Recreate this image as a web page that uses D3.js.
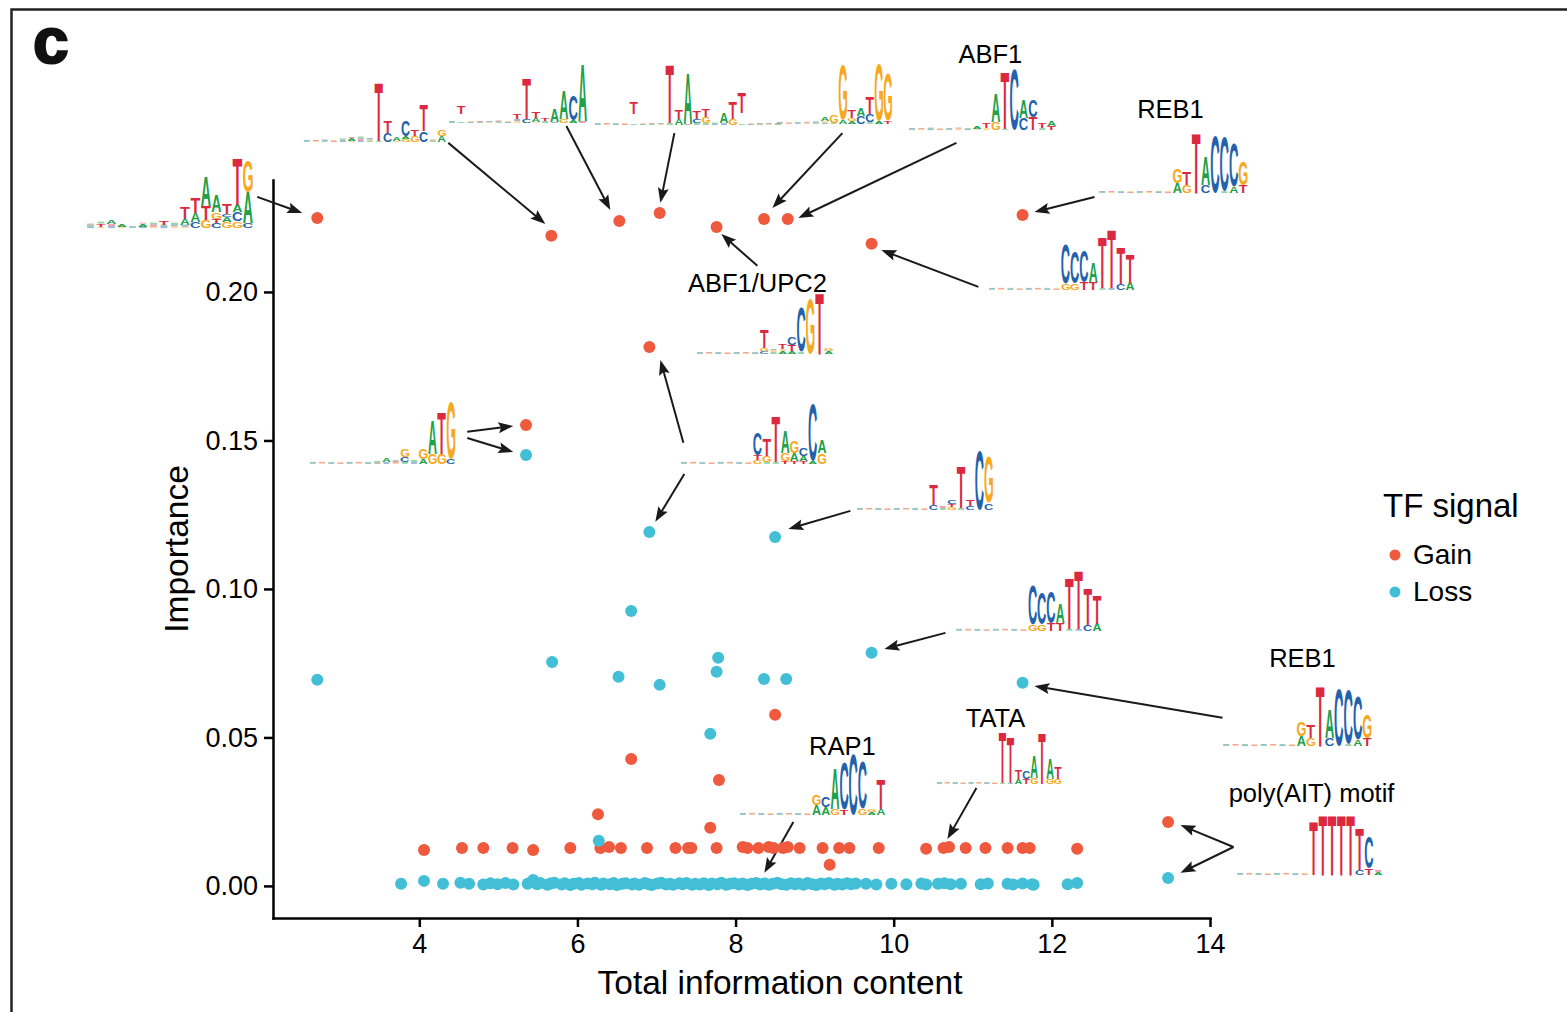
<!DOCTYPE html>
<html><head><meta charset="utf-8">
<script src="https://cdn.jsdelivr.net/npm/d3@7"></script>
<style>body{margin:0;background:#fff;} svg{display:block;} text{font-family:"Liberation Sans",Arial,sans-serif;}</style>
</head><body>
<svg id="chart" width="1567" height="1012"></svg>
<script>
// ---------------- DATA ----------------
const seriesNames = ["Gain", "Loss"];
const xTicks = [4, 6, 8, 10, 12, 14];
const yTicks = [0, 0.05, 0.10, 0.15, 0.20];

// [total information content, importance]
const gainPoints = [
  [2.71,.2249],[5.67,.2189],[6.53,.2239],[7.04,.2266],[7.76,.2219],[8.36,.2246],[8.66,.2246],[9.72,.2162],[11.63,.2259],
  [6.91,.1815],[5.35,.1552],[8.50,.0576],[6.68,.0427],[7.79,.0357],[6.26,.0241],[7.68,.0196],[9.19,.0071],[13.47,.0215],
  [4.06,.0121],[4.54,.0128],[4.81,.0128],[5.18,.0128],[5.44,.0121],[5.91,.0128],[6.29,.0128],[6.40,.0131],[6.55,.0128],[6.88,.0128],
  [7.24,.0128],[7.40,.0128],[7.44,.0128],[7.76,.0128],[8.09,.0131],[8.15,.0128],[8.29,.0128],[8.42,.0131],[8.48,.0128],[8.60,.0128],
  [8.66,.0131],[8.81,.0128],[9.10,.0128],[9.31,.0128],[9.44,.0128],[9.81,.0128],[10.41,.0125],[10.63,.0128],[10.70,.0131],[10.91,.0128],
  [11.16,.0128],[11.44,.0128],[11.63,.0128],[11.72,.0128],[12.32,.0125]
];
const lossPoints = [
  [2.71,.0694],[5.35,.1451],[6.91,.1192],[8.50,.1175],[6.68,.0926],[5.68,.0754],[6.52,.0704],[7.04,.0677],[7.78,.0768],
  [7.76,.0721],[8.36,.0697],[8.64,.0697],[7.68,.0512],[9.72,.0785],[11.63,.0684],[6.27,.0152],[13.47,.0027],
  [3.77,.0007],[4.06,.0017],[4.30,.0007],[4.52,.0011],[4.63,.0007],[4.81,.0005],[4.90,.0009],[4.99,.0006],[5.09,.0010],[5.19,.0005],[5.37,.0007],[5.44,.0020],
  [5.49,.0006],[5.53,.0010],[5.62,.0004],[5.66,.0008],[5.71,.0011],[5.80,.0005],[5.84,.0009],[5.91,.0003],[5.95,.0007],[6.02,.0010],
  [6.05,.0004],[6.13,.0008],[6.19,.0006],[6.22,.0011],[6.30,.0004],[6.33,.0008],[6.41,.0006],[6.46,.0010],[6.50,.0003],[6.57,.0007],
  [6.61,.0009],[6.69,.0005],[6.72,.0008],[6.78,.0004],[6.85,.0010],[6.90,.0006],[6.94,.0003],[7.01,.0008],[7.06,.0011],[7.12,.0005],
  [7.17,.0007],[7.21,.0004],[7.29,.0009],[7.33,.0006],[7.38,.0010],[7.45,.0004],[7.49,.0007],[7.55,.0005],[7.60,.0009],[7.66,.0003],
  [7.70,.0008],[7.77,.0006],[7.82,.0011],[7.88,.0004],[7.93,.0007],[7.98,.0009],[8.04,.0005],[8.09,.0008],[8.15,.0003],[8.20,.0007],
  [8.26,.0010],[8.31,.0005],[8.37,.0008],[8.42,.0004],[8.47,.0007],[8.53,.0011],[8.58,.0006],[8.64,.0004],[8.70,.0009],[8.75,.0006],
  [8.80,.0008],[8.86,.0004],[8.91,.0010],[8.97,.0006],[9.02,.0003],[9.08,.0008],[9.13,.0006],[9.18,.0010],[9.25,.0004],[9.29,.0007],
  [9.35,.0005],[9.41,.0009],[9.46,.0006],[9.52,.0008],
  [9.65,.0007],[9.78,.0005],[9.97,.0007],[10.16,.0006],[10.35,.0008],[10.41,.0005],[10.56,.0007],[10.64,.0009],[10.72,.0006],[10.85,.0007],
  [11.10,.0006],[11.19,.0008],[11.44,.0007],[11.51,.0005],[11.63,.0008],[11.75,.0006],[11.77,.0004],[12.20,.0006],[12.32,.0010]
];

// Motif logos: columns (bottom->top) letter+height
const BG = "A1C1 G1T1 C1A1 T1G1 A1C1 G1T1 C1A1 T1G1";
const motifReb1 = BG + " A10G15 G8T13 T60 C8A28 C57 A2C54 A6C44 T8G23";
const motifCca = BG + " G6C39 G6C32 T7C31 T8A19 A2T50 C2T58 C6T36 A7T29";
const motifs = {
  L1: "C1.5A2T1 G1.5T3A2 C2T2A4 G1.5A3 A1C1 C1.5A3T1 G1.5T2A2 C2A1.5T4 G2C1.5A2 G1.5C2A6T12 C6A9T15 G8T14A30 C5T4G7A17 G6A5C3T10 G7C9A7T47 C5A31G32",
  L2: "A1C1 G1T1 A1.5C1 T1G1 C1.5A2 G1A3T1 C1.5T2A2 A1G1.5C1.5 A1T58 C9T12 G1A3.5 G3A3C16 G6T6 C11T26 A1.5T1 A6G6",
  L3: "A1C1 A1_8T8 C1G1 A1T1 G1C1 A1.5T1 C1G1 G2C2T5 C4T40 G1A4T6 A2T3 C1A13 G4A28 A3C25 T2A57",
  L4: "A1C1 G1T1 C1A1 T1G1 A1_10T11 C1G1 A1T1 G1C1 A2T59 A6T9 T1A50 A2C4T7 A2G6T8 C1A1.5 C2A10 G6T17 A1_11T21 C1G1 A1T1 G1C1 A1T1",
  L5: "A1C1 T1G1 C1A1 G1T1 A1.5C1 C1G2A4 A1G8 A4G55 A3G3T8 C8A8 A2C8T17 A3G56 T3G48",
  L6: "A1C1 G1T1 C1A1.5 T1G1 A1C1 G1.5T1 C1A1 G1A3 G2T5 G8A28 A1T57 C60 C12A18 T13C17 A2T5 T4A5",
  L7: motifReb1,
  L8: motifCca,
  L9: "A1C1 G1T1 C1A1 T1G1 A1C1 G1T1 C1A1 C3G3T18 A2G2C1 A3G2T5 A3T6C8 A2C45 G55 T61 A3G3",
  L10: BG + " G4T5C22 A2G6T17 A2T45 T3G8A22 T3A8G12 T3A5C8 A3C57 G11A13",
  L11: "A1C1 G1T1 C1A1 T1G1 A1C1 G1T1 C1A1 T1A2 C2A4 G1T2A1 A2C5G8 C2A2 A5G10 G10A34 G10T41 C5G56",
  L12: BG + " C5T20 A2T2 G3T3C4 A2T42 C4T6 C59 C7G46",
  L13: motifCca,
  L14: motifReb1,
  L15: BG + " A1T50 C1T46 A5T9 T5C8 G6A22 T51 G5A21 G5T12",
  L16: BG + " A10G11 A8C10 G6A40 T5C47 C60 G6C47 A3G3 A6T30",
  L17: BG + " T53 T60 T60 T60 T60 C5T42 T6C32 A3T2"
};

// ---------------- ANNOTATION LAYOUT (data units) ----------------
const logoLayout = [
  {id:"L1", x:-0.225, y:0.2215, w:10.5},
  {id:"L2", x:2.520, y:0.2505, w:9},
  {id:"L3", x:4.354, y:0.2569, w:9.33},
  {id:"L4", x:6.201, y:0.2562, w:9},
  {id:"L5", x:8.503, y:0.2566, w:9},
  {id:"L6", x:10.173, y:0.2545, w:9.3},
  {id:"L7", x:12.577, y:0.2333, w:9.4},
  {id:"L8", x:11.185, y:0.2007, w:9.2},
  {id:"L9", x:7.491, y:0.1791, w:9.2},
  {id:"L10", x:7.289, y:0.1421, w:9.2},
  {id:"L11", x:2.596, y:0.1421, w:9.2},
  {id:"L12", x:9.515, y:0.1266, w:9.2},
  {id:"L13", x:10.768, y:0.0859, w:9.2},
  {id:"L14", x:14.145, y:0.0471, w:9.4},
  {id:"L15", x:10.528, y:0.0343, w:7.9},
  {id:"L16", x:8.035, y:0.0239, w:9.2},
  {id:"L17", x:14.323, y:0.0037, w:9.2}
];
const labels = [
  {text:"ABF1", x:11.223, y:0.2771},
  {text:"REB1", x:13.500, y:0.2586},
  {text:"ABF1/UPC2", x:8.276, y:0.2000},
  {text:"REB1", x:15.170, y:0.0737},
  {text:"TATA", x:11.287, y:0.0535},
  {text:"RAP1", x:9.351, y:0.0441},
  {text:"poly(AIT) motif", x:15.284, y:0.0283}
];
const arrows = [
  [1.951,.2320,2.520,.2266],
  [4.367,.2502,5.594,.2229],
  [5.860,.2559,6.416,.2276],
  [7.226,.2535,7.049,.2300],
  [9.351,.2535,8.466,.2283],
  [10.793,.2502,8.794,.2249],
  [12.539,.2320,11.780,.2269],
  [11.071,.2017,9.844,.2141],
  [8.276,.2088,7.820,.2195],
  [7.340,.1492,7.049,.1771],
  [7.352,.1387,6.985,.1226],
  [4.607,.1529,5.189,.1549],
  [4.607,.1508,5.189,.1461],
  [9.452,.1263,8.668,.1202],
  [10.654,.0852,9.882,.0798],
  [14.158,.0566,11.780,.0673],
  [8.731,.0215,8.364,.0044],
  [11.046,.0330,10.679,.0158],
  [14.297,.0131,13.627,.0205],
  [14.297,.0131,13.627,.0044]
];

// ---------------- DRAW ----------------
const colors = {Gain:"#EF5A3E", Loss:"#42BFD6"};
const letterColor = {A:"#20A04A", C:"#2362AA", G:"#F6A81E", T:"#DB2A3F"};
const FONT = '"Liberation Sans", Arial, sans-serif';
const svg = d3.select("#chart");
const x = d3.scaleLinear().domain([2.15, 14]).range([273, 1210]);
const y = d3.scaleLinear().domain([-0.0108, 0.2377]).range([918, 180]);

svg.append("rect").attr("x",11.5).attr("y",9.5).attr("width",1600).attr("height",1100)
  .attr("fill","none").attr("stroke","#222").attr("stroke-width",2.5);
svg.append("text").attr("x",33).attr("y",63).text("c")
  .attr("font-size",64).attr("font-weight","bold").attr("fill","#111")
  .attr("stroke","#111").attr("stroke-width",2.2).style("font-family",FONT);

// axes
const gx = svg.append("g").attr("transform","translate(0,918)")
  .call(d3.axisBottom(x).tickValues(xTicks).tickFormat(d3.format("d")).tickSize(9).tickPadding(7).tickSizeOuter(0));
const gy = svg.append("g").attr("transform","translate(273,0)")
  .call(d3.axisLeft(y).tickValues(yTicks).tickFormat(d3.format(".2f")).tickSize(9).tickPadding(6).tickSizeOuter(0));
[gx, gy].forEach(g => {
  g.attr("font-family", FONT).attr("font-size", 27);
  g.select(".domain").attr("stroke","#000").attr("stroke-width",2.5).attr("stroke-linecap","square");
  g.selectAll(".tick line").attr("stroke","#000").attr("stroke-width",2.5);
  g.selectAll(".tick text").attr("fill","#000").attr("font-size",27);
});
svg.append("text").attr("transform","translate(188,549) rotate(-90)").attr("text-anchor","middle")
  .attr("font-size",33.5).attr("fill","#000").text("Importance");
svg.append("text").attr("x",780).attr("y",994).attr("text-anchor","middle")
  .attr("font-size",33.5).attr("fill","#000").text("Total information content");

// letter metrics
const FS = 100;
const ctx = document.createElement("canvas").getContext("2d");
ctx.font = `bold ${FS}px "Liberation Sans"`;
const met = {};
"ACGT".split("").forEach(L => {
  const m = ctx.measureText(L);
  met[L] = {left:-m.actualBoundingBoxLeft, right:m.actualBoundingBoxRight, top:-m.actualBoundingBoxAscent, bottom:m.actualBoundingBoxDescent};
});
function parseCols(str){
  return str.trim().split(/\s+/).map(tok => {
    const out = []; const re = /([ACGT_])([\d.]+)/g; let m;
    while ((m = re.exec(tok))) out.push([m[1], +m[2]]);
    return out;
  });
}
const logoG = svg.append("g");
function drawLetter(L, bx, by, bw, bh){
  if (bh < 2.6) {
    // near-zero information: letters are too small to read, rendered as faint smudges
    logoG.append("rect").attr("x", bx + bw*0.15).attr("y", by).attr("width", bw*0.7).attr("height", bh)
      .attr("fill", letterColor[L]).attr("opacity", 0.45);
    return;
  }
  const m = met[L];
  const iw = m.right - m.left, ih = m.bottom - m.top;
  logoG.append("text").text(L)
    .attr("font-size", FS).attr("font-weight","bold").style("font-family",'"Liberation Sans"')
    .attr("fill", letterColor[L])
    .attr("transform", `translate(${bx},${by}) scale(${bw/iw},${bh/ih}) translate(${-m.left},${-m.top})`);
}
logoLayout.forEach(spec => {
  const x0 = x(spec.x), y0 = y(spec.y);
  parseCols(motifs[spec.id]).forEach((col, i) => {
    let yb = y0;
    col.forEach(([L, h]) => {
      if (L !== "_") drawLetter(L, x0 + i*spec.w + spec.w*0.04, yb - h, spec.w*0.92, h);
      yb -= h;
    });
  });
});

// labels
svg.append("g").selectAll("text").data(labels).join("text")
  .attr("x", d => x(d.x)).attr("y", d => y(d.y)).attr("text-anchor","middle")
  .attr("font-size",25.5).attr("fill","#000").text(d => d.text);

// arrows
const arrG = svg.append("g");
arrows.forEach(a => {
  const x1 = x(a[0]), y1 = y(a[1]), x2 = x(a[2]), y2 = y(a[3]);
  const dx = x2-x1, dy = y2-y1, len = Math.hypot(dx,dy), ux = dx/len, uy = dy/len, nx = -uy, ny = ux;
  const L = 15, hw = 5.5, bx = x2-ux*L, by = y2-uy*L;
  arrG.append("line").attr("x1",x1).attr("y1",y1).attr("x2",x2-ux*L*0.7).attr("y2",y2-uy*L*0.7)
    .attr("stroke","#1a1a1a").attr("stroke-width",2);
  arrG.append("path").attr("fill","#1a1a1a")
    .attr("d",`M${x2},${y2}L${bx+nx*hw},${by+ny*hw}L${x2-ux*L*0.82},${y2-uy*L*0.82}L${bx-nx*hw},${by-ny*hw}Z`);
});

// points
const ptG = svg.append("g");
ptG.selectAll("circle.gain").data(gainPoints).join("circle").attr("class","gain")
  .attr("cx", d => x(d[0])).attr("cy", d => y(d[1])).attr("r",6).attr("fill",colors.Gain);
ptG.selectAll("circle.loss").data(lossPoints).join("circle").attr("class","loss")
  .attr("cx", d => x(d[0])).attr("cy", d => y(d[1])).attr("r",6).attr("fill",colors.Loss);

// legend
const leg = svg.append("g");
leg.append("text").attr("x",1383).attr("y",517).attr("font-size",33).attr("fill","#000").text("TF signal");
seriesNames.forEach((s, i) => {
  leg.append("circle").attr("cx",1395).attr("cy",555 + i*37).attr("r",5.5).attr("fill",colors[s]);
  leg.append("text").attr("x",1413).attr("y",564 + i*37).attr("font-size",28).attr("fill","#000").text(s);
});
</script>
</body></html>
